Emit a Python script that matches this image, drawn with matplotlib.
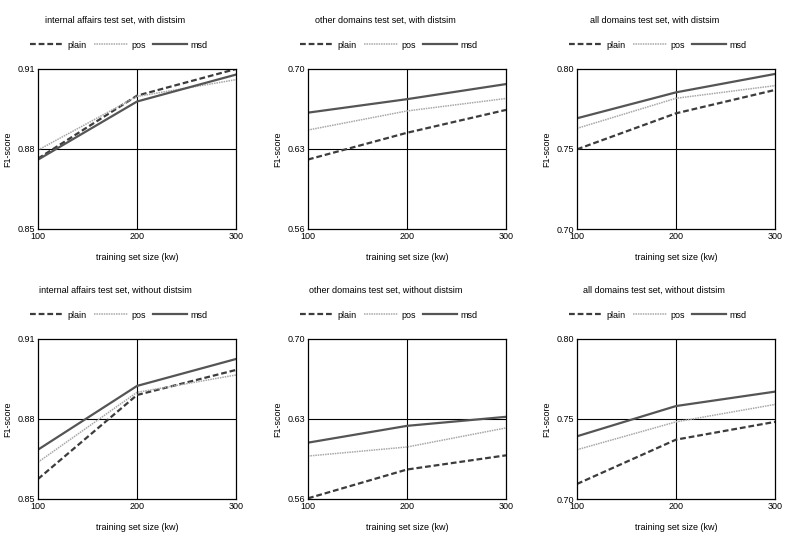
import matplotlib.pyplot as plt

plt.rcParams['font.family'] = ['Liberation Sans', 'DejaVu Sans']

sizes = [100, 200, 300]
series = ["plain", "pos", "msd"]

titles = [
    "internal affairs test set, with distsim",
    "other domains test set, with distsim",
    "all domains test set, with distsim",
    "internal affairs test set, without distsim",
    "other domains test set, without distsim",
    "all domains test set, without distsim",
]

# y-axis ticks per column (internal affairs, other domains, all domains)
yticks_ia = [0.85, 0.88, 0.91]
yticks_od = [0.56, 0.63, 0.70]
yticks_ad = [0.70, 0.75, 0.80]

# F1 scores: plain, pos, msd
ia_with = [[0.8764, 0.9000, 0.9100], [0.8796, 0.8997, 0.9060], [0.8760, 0.8978, 0.9079]]
od_with = [[0.6208, 0.6442, 0.6642], [0.6466, 0.6633, 0.6742], [0.6618, 0.6736, 0.6868]]
ad_with = [[0.7498, 0.7723, 0.7869], [0.7629, 0.7817, 0.7896], [0.7692, 0.7854, 0.7969]]
ia_without = [[0.8575, 0.8890, 0.8984], [0.8638, 0.8900, 0.8965], [0.8685, 0.8924, 0.9025]]
od_without = [[0.5606, 0.5858, 0.5982], [0.5976, 0.6055, 0.6222], [0.6093, 0.6240, 0.6319]]
ad_without = [[0.7094, 0.7371, 0.7482], [0.7308, 0.7482, 0.7591], [0.7392, 0.7581, 0.7671]]

panels = [ia_with, od_with, ad_with, ia_without, od_without, ad_without]
yticks = [yticks_ia, yticks_od, yticks_ad] * 2

styles = {
    "plain": dict(color="#3c3c3c", linestyle=(0, (2.6, 1.3)), linewidth=1.6),
    "pos": dict(color="#a8a8a8", linestyle=(0, (1, 0.6)), linewidth=1.1),
    "msd": dict(color="#555555", linestyle="-", linewidth=1.6),
}

fig = plt.figure(figsize=(7.87, 5.34), dpi=100)
W, H = 787, 534
lefts = [38, 308, 577]
tops = [69, 339]
aw, ah = 198, 160

for i, data in enumerate(panels):
    r, c = divmod(i, 3)
    ax = fig.add_axes([lefts[c] / W, 1 - (tops[r] + ah) / H, aw / W, ah / H])
    for name, vals in zip(series, data):
        ax.plot(sizes, vals, label=name, **styles[name])
    yt = yticks[i]
    ax.set_xlim(sizes[0], sizes[-1])
    ax.set_ylim(yt[0], yt[-1])
    ax.set_xticks(sizes)
    ax.set_yticks(yt)
    ax.set_yticklabels(["%.2f" % v for v in yt])
    ax.tick_params(length=0, labelsize=6.5, pad=2)
    ax.axvline(sizes[1], color="black", linewidth=0.8, zorder=0)
    ax.axhline(yt[1], color="black", linewidth=0.8, zorder=0)
    for s in ax.spines.values():
        s.set_linewidth(0.9)
    ax.set_ylabel("F1-score", fontsize=6.5, labelpad=4)
    ax.set_xlabel("training set size (kw)", fontsize=6.5, labelpad=9)
    ax.text(0.39, 1 + 49 / ah, titles[i], transform=ax.transAxes,
            ha="center", va="center", fontsize=6.5)
    ax.legend(loc="center", bbox_to_anchor=(0.41, 1 + 24 / ah), ncol=3,
              frameon=False, fontsize=6.5, handlelength=3.7, handletextpad=0.45,
              columnspacing=0.8, borderpad=0.2)

fig.savefig("out.png", dpi=100)
